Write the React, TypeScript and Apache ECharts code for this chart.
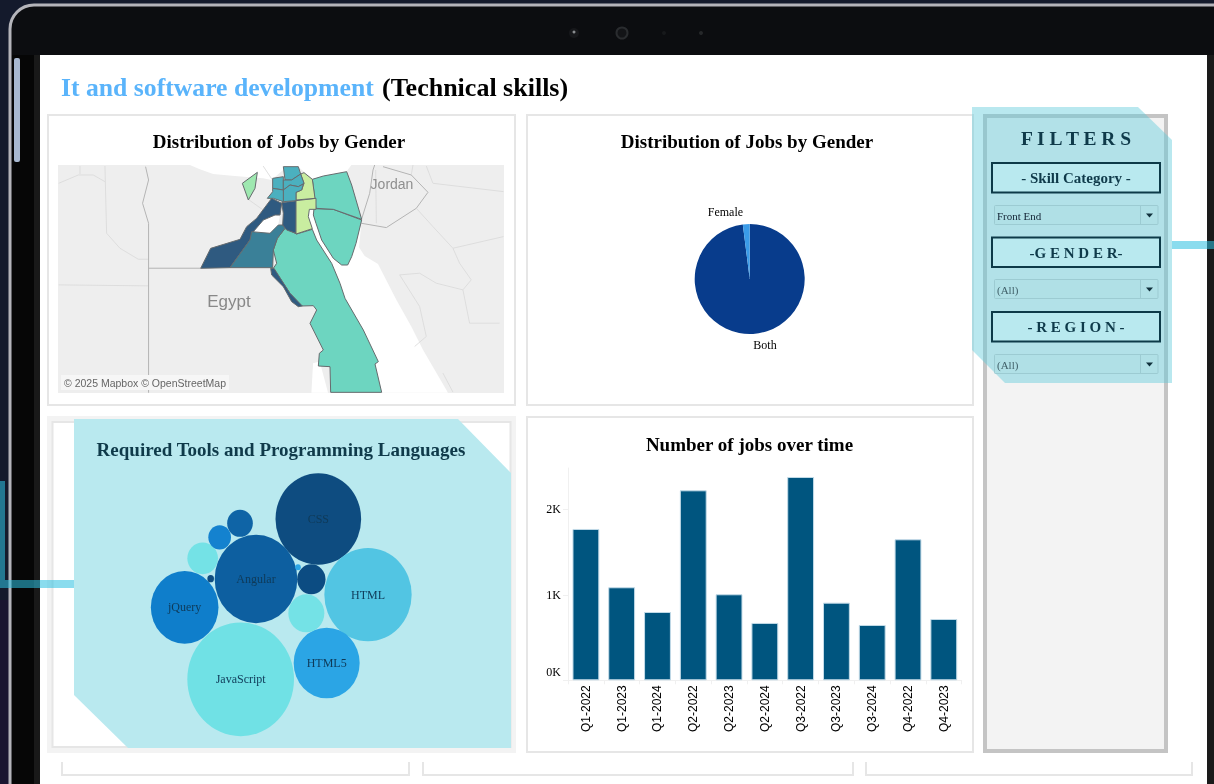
import React, { useEffect, useRef } from "react";
import * as echarts from "echarts";

const serif = "'Liberation Serif', 'Times New Roman', serif";
const sans = "'Liberation Sans', Arial, sans-serif";

// Bars: jobs per quarter
const quarters = ["Q1-2022","Q1-2023","Q1-2024","Q2-2022","Q2-2023","Q2-2024","Q3-2022","Q3-2023","Q3-2024","Q4-2022","Q4-2023"];
const jobCounts = [1770,1088,799,2222,1006,671,2378,908,647,1649,717];

// Pie: gender share
const genderNames = ["Both","Female"];
const genderValues = [98,2];
const genderColors = ["#083c8c","#3a9be8"];

// Bubbles: tools (in plot units of the packed layout)
const toolNames = ["CSS","Angular","HTML","JavaScript","jQuery","HTML5","","","","","","",""];
const toolCx = [565,378,714,332,164,590,529,544,218,269,330,242,504];
const toolCy = [162,342,389,643,427,594,445,343,280,217,175,341,307];
const toolW = [257,248,262,320,203,198,108,85,92,68,77,20,17];
const toolH = [275,265,280,341,218,212,114,90,95,73,81,22,18];
const toolColors = ["#0e4c80","#0d5fa0","#52c5e3","#70e1e5","#0f7ecb","#2ba5e5","#74e2e6","#0c4c82","#74e2e6","#1482cf","#0f64a6","#0e4c80","#2ba5e5"];

// Map: governorates, estimated class values
const regionNames = ["South Sinai","North Sinai","Red Sea","Sohag strip","Giza West","Beni Suef","Helwan","Suez","Sharqia","Damietta","Kafr El Sheikh","Gharbia","Dakahlia","Alexandria","Matrouh North"];
const regionValues = [300,300,300,600,600,500,600,100,100,400,400,400,400,400,200];
const regionShapes: number[][][] = [
  [[792,146],[850,148],[935,180],[918,250],[905,290],[893,315],[875,315],[850,295],[815,240],[798,190],[790,165]],
  [[787,58],[820,48],[890,35],[905,75],[935,178],[850,148],[798,145]],
  [[705,205],[740,222],[787,208],[800,240],[845,310],[870,370],[885,415],[940,510],[985,605],[975,612],[995,697],[842,697],[840,620],[805,618],[808,580],[820,570],[805,540],[780,490],[800,450],[790,437],[755,438],[720,400],[670,325],[680,310],[670,270],[682,235]],
  [[662,325],[672,325],[720,400],[757,438],[745,440],[725,425],[700,380],[665,345]],
  [[452,325],[482,265],[570,238],[590,200],[620,175],[665,115],[695,130],[690,165],[675,165],[640,180],[610,215],[600,240],[540,323]],
  [[540,323],[600,240],[605,215],[660,220],[685,195],[700,195],[705,205],[682,235],[670,270],[668,323]],
  [[695,128],[740,122],[738,220],[710,210],[698,195],[700,160]],
  [[738,122],[798,115],[798,148],[778,148],[775,170],[787,206],[738,222]],
  [[738,120],[738,97],[755,90],[762,70],[752,42],[762,38],[787,58],[795,115]],
  [[700,20],[745,20],[752,42],[725,60],[705,60]],
  [[668,55],[700,50],[700,90],[668,85]],
  [[700,60],[725,60],[752,42],[762,70],[745,80],[720,75],[700,90]],
  [[700,90],[720,75],[745,80],[760,72],[755,90],[738,97],[738,122],[700,125]],
  [[668,85],[700,90],[700,125],[670,115],[652,115],[668,95]],
  [[577,70],[622,37],[615,85],[595,120]],
];
const classBreaks = [100,200,300,400,500,600];
const classColors = ["#c9eda0","#9ee8b0","#6dd5c0","#4bb0bf","#3a8098","#2f5a80"];

// Basemap drawing (same coordinates as the regions)
const seaShapes: number[][][] = [
  [[420,15],[450,28],[490,42],[555,48],[640,55],[665,60],[700,30],[745,20],[790,58],[890,35],[905,15]],
  [[778,150],[790,150],[798,190],[815,240],[850,295],[875,315],[893,315],[905,295],[918,250],[935,190],[928,262],[945,288],[985,312],[1040,420],[1085,500],[1120,570],[1190,690],[1195,699],[995,699],[975,610],[940,510],[885,415],[870,370],[845,310],[800,240],[775,170]],
  [[610,215],[640,180],[675,165],[690,170],[685,195],[665,218],[630,218]],
  [[790,610],[810,605],[835,699],[785,699]],
];
const borderLines: number[][][] = [
  [[287,20],[296,60],[278,130],[296,190],[296,699]],
  [[296,325],[452,325]],
  [[935,180],[960,100],[970,30],[975,15]],
  [[1010,203],[935,190]],
  [[1010,203],[1100,145],[1135,97],[1085,45],[1000,20]],
];
const adminLines: number[][][] = [
  [[26,375],[296,378]],
  [[165,18],[170,220],[210,265],[265,298],[296,298]],
  [[26,70],[85,45],[130,45],[165,65]],
  [[90,18],[90,42]],
  [[595,118],[640,150]],
  [[640,18],[668,60]],
  [[1085,45],[1090,15]],
  [[978,30],[980,190]],
  [[1100,145],[1150,200],[1210,265],[1230,310],[1265,360],[1240,390],[1260,490],[1350,490]],
  [[1362,230],[1210,265]],
  [[1050,345],[1110,340],[1160,370],[1240,390]],
  [[1050,345],[1110,440],[1130,530],[1095,560]],
  [[1130,18],[1150,70],[1362,95]],
  [[1180,640],[1210,697]],
];

const pageTitleA = "It and software development";
const pageTitleB = "(Technical skills)";
const filterLabels = ["- Skill Category -","-G E N D E R-","- R E G I O N -"];
const filterValues = ["Front End","(All)","(All)"];

const rect = (x: number, y: number, w: number, h: number, fill: string, stroke?: string, lineWidth = 0, r = 0) => ({
  type: "rect", silent: true, shape: { x, y, width: w, height: h, r },
  style: { fill, stroke: stroke || "none", lineWidth },
});
const text = (x: number, y: number, t: string, font: string, fill: string, align = "center") => ({
  type: "text", silent: true, x, y,
  style: { text: t, font, fill, textAlign: align, textVerticalAlign: "middle" },
});
const poly = (points: number[][], fill: string) => ({ type: "polygon", silent: true, shape: { points }, style: { fill } });

function buildGraphics() {
  const ink = "#0f3a4a";
  const els: any[] = [];
  // device frame
  els.push(rect(0, 0, 1214, 784, "#141a2c"));
  els.push(rect(0, 600, 10, 184, "#1a1530"));
  els.push(rect(10, 5, 1300, 900, "#0c0d10", "#b4b4ba", 3, 24));
  els.push(rect(12, 55, 28, 729, "#060606"));
  els.push(rect(34, 55, 6, 729, "#191919"));
  els.push(rect(1207, 55, 7, 729, "#1a1a1a"));
  els.push(rect(14, 58, 6, 104, "#a8b8d0", undefined, 0, 2));
  els.push({ type: "circle", silent: true, shape: { cx: 574, cy: 33, r: 5 }, style: { fill: "#17181b" } });
  els.push({ type: "circle", silent: true, shape: { cx: 574, cy: 32, r: 1.5 }, style: { fill: "#8a8d90" } });
  els.push({ type: "circle", silent: true, shape: { cx: 622, cy: 33, r: 5.5 }, style: { fill: "#131417", stroke: "#2a2c2f", lineWidth: 2 } });
  els.push({ type: "circle", silent: true, shape: { cx: 664, cy: 33, r: 2 }, style: { fill: "#17191b" } });
  els.push({ type: "circle", silent: true, shape: { cx: 701, cy: 33, r: 2 }, style: { fill: "#26282a" } });
  // screen
  els.push(rect(40, 55, 1167, 729, "#ffffff"));
  // titles
  els.push(text(61, 87, pageTitleA, `bold 25.7px ${serif}`, "#5ab4fb", "left"));
  els.push(text(382, 87, pageTitleB, `bold 26px ${serif}`, "#000000", "left"));
  // cards
  const edge = "#e6e6e6";
  els.push(rect(48, 115, 467, 290, "#fff", edge, 2));
  els.push(rect(527, 115, 446, 290, "#fff", edge, 2));
  els.push(rect(527, 417, 446, 335, "#fff", edge, 2));
  els.push(rect(47, 416, 469, 337, "#f3f3f3"));
  els.push(rect(52.5, 422, 458, 325, "#fff", edge, 2));
  els.push(text(279, 141, "Distribution of Jobs by Gender", `bold 19px ${serif}`, "#000"));
  els.push(text(747, 141, "Distribution of Jobs by Gender", `bold 19px ${serif}`, "#000"));
  els.push(text(749.5, 444, "Number of jobs over time", `bold 19px ${serif}`, "#000"));
  // connectors
  const link = "rgba(46,193,225,0.56)";
  els.push(rect(0, 481, 5, 99, link));
  els.push(rect(0, 580, 74, 8, link));
  els.push(rect(1172, 241, 42, 8, link));
  // lower stubs
  [[62, 409], [423, 853], [866, 1192]].forEach(([a, b]) => {
    els.push({ type: "polyline", silent: true, shape: { points: [[a, 762], [a, 775], [b, 775], [b, 762]] }, style: { fill: "none", stroke: edge, lineWidth: 2 } });
  });
  // bubble card highlight
  els.push(poly([[74, 419], [458, 419], [511, 473], [511, 748], [128, 748], [74, 695]], "#b9e9ef"));
  els.push(text(281, 449, "Required Tools and Programming Languages", `bold 19px ${serif}`, ink));
  // basemap
  els.push(rect(58, 165, 446, 228, "#eeeeee"));
  els.push({
    type: "group", x: 50, y: 160, scaleX: 1 / 3, scaleY: 1 / 3, silent: true,
    children: [
      ...seaShapes.map((s) => poly(s, "#ffffff")),
      ...adminLines.map((p) => ({ type: "polyline", silent: true, shape: { points: p }, style: { fill: "none", stroke: "#dadada", lineWidth: 2.5 } })),
      ...borderLines.map((p) => ({ type: "polyline", silent: true, shape: { points: p }, style: { fill: "none", stroke: "#b4b4b4", lineWidth: 3 } })),
    ],
  });
  els.push(text(229, 301, "Egypt", `17px ${sans}`, "#888888"));
  els.push(text(392, 184, "Jordan", `14px ${sans}`, "#8f8f8f"));
  els.push(rect(61, 375, 168, 15, "#f6f6f6"));
  els.push(text(64, 383, "© 2025 Mapbox © OpenStreetMap", `10.5px ${sans}`, "#666666", "left"));
  // filter panel
  els.push(rect(985, 116, 181, 635, "#f3f3f3", "#c4c4c4", 4));
  els.push(poly([[972, 107], [1138, 107], [1172, 140], [1172, 383], [1005, 383], [972, 350]], "rgba(100,205,220,0.45)"));
  els.push(text(1076, 138, "F I L T E R S", `bold 19.5px ${serif}`, ink));
  const boxTops = [163, 237.5, 312];
  const dropTops = [205.5, 279.5, 354.5];
  filterLabels.forEach((label, i) => {
    els.push(rect(992, boxTops[i], 168, 29.5, "#b9e9ef", "#0d3a48", 2));
    els.push(text(1076, boxTops[i] + 15, label, `bold 15px ${serif}`, ink));
    const t = dropTops[i];
    els.push(rect(994.5, t, 163.5, 19, "#b0e0e6", "#9ccbd2", 1, 1));
    els.push({ type: "line", silent: true, shape: { x1: 1140.5, y1: t, x2: 1140.5, y2: t + 19 }, style: { stroke: "#9ccbd2", lineWidth: 1 } });
    els.push(poly([[1146, t + 8], [1153, t + 8], [1149.5, t + 12]], "#10303c"));
    els.push(text(997, t + 10, filterValues[i], `11px ${serif}`, i === 0 ? "#123" : "#3f5f68", "left"));
  });
  return els;
}

const mapGeo = {
  type: "FeatureCollection",
  features: regionNames.map((name, i) => {
    const ring = regionShapes[i].map(([x, y]) => [x, -y]);
    ring.push(ring[0]);
    return { type: "Feature", properties: { name }, geometry: { type: "Polygon", coordinates: [ring] } };
  }),
};

export default function App() {
  const ref = useRef<HTMLDivElement>(null);
  useEffect(() => {
    document.body.style.margin = "0";
    document.body.style.overflow = "hidden";
    echarts.registerMap("egypt", mapGeo as any);
    const chart = echarts.init(ref.current!, undefined, { renderer: "svg" });
    chart.setOption({
      animation: false,
      backgroundColor: "transparent",
      textStyle: { fontFamily: serif },
      graphic: { elements: buildGraphics() },
      grid: [
        { left: 568, top: 468, width: 393.7, height: 212.3, containLabel: false },
        { left: 130, top: 465, width: 300, height: 280 },
      ],
      xAxis: [
        {
          gridIndex: 0, type: "category", data: quarters,
          axisLine: { lineStyle: { color: "#f0f0f0" } },
          axisTick: { show: true, length: 4, lineStyle: { color: "#f0f0f0" } },
          axisLabel: { rotate: 90, fontSize: 12, color: "#000", margin: 5, fontFamily: sans, interval: 0 },
        },
        { gridIndex: 1, type: "value", min: 0, max: 900, show: false },
      ],
      yAxis: [
        {
          gridIndex: 0, type: "value", min: 0, max: 2483, interval: 1000,
          splitLine: { show: false },
          axisLine: { show: true, lineStyle: { color: "#f0f0f0" } },
          axisTick: { show: true, length: 5, lineStyle: { color: "#f0f0f0" } },
          axisLabel: {
            fontSize: 12, color: "#000", margin: 7, fontFamily: serif, showMaxLabel: false,
            formatter: (v: number) => (v === 0 ? "{low|0K}" : `${v / 1000}K`),
            rich: { low: { fontSize: 12, color: "#000", fontFamily: serif, padding: [0, 0, 16, 0] } },
          },
        },
        { gridIndex: 1, type: "value", min: 0, max: 840, inverse: true, show: false },
      ],
      visualMap: {
        type: "piecewise", show: false, seriesIndex: 3,
        pieces: classBreaks.map((v, i) => ({ min: v, max: v + 99, color: classColors[i] })),
      },
      series: [
        {
          type: "bar", xAxisIndex: 0, yAxisIndex: 0, data: jobCounts, barWidth: "75%", silent: true,
          itemStyle: { color: "#00557f", borderColor: "#c3dbe8", borderWidth: 1 },
        },
        {
          type: "pie", center: [749.7, 279], radius: [0, 55], startAngle: 90, silent: true,
          data: genderNames.map((name, i) => ({ name, value: genderValues[i], itemStyle: { color: genderColors[i] } })),
          label: { show: true, position: "outside", formatter: "{b}", fontSize: 12, color: "#000", fontFamily: serif },
          labelLine: { show: false, length: 3, length2: 3 },
          labelLayout: (p: any) => (p.dataIndex === 0 ? { dx: -8, dy: 8 } : { dx: 5, dy: -9 }),
        },
        {
          type: "scatter", xAxisIndex: 1, yAxisIndex: 1, silent: true,
          symbol: "path://M0 100A100 100 0 1 1 200 100A100 100 0 1 1 0 100Z",
          symbolSize: (v: number[]) => [v[2] / 3, v[3] / 3],
          data: toolNames.map((name, i) => ({
            name, value: [toolCx[i], toolCy[i], toolW[i], toolH[i]], itemStyle: { color: toolColors[i], opacity: 1 },
          })),
          label: { show: true, position: "inside", formatter: (p: any) => p.name, fontSize: 12, color: "#0f3a58", fontFamily: serif },
        },
        {
          type: "map", map: "egypt", silent: true, aspectScale: 1, roam: false,
          left: 58, top: 165, width: 446, height: 228,
          boundingCoords: [[24, -15], [1362, -699]],
          itemStyle: { borderColor: "#666b6e", borderWidth: 1 },
          label: { show: false },
          data: regionNames.map((name, i) => ({ name, value: regionValues[i] })),
        },
      ],
    });
    return () => chart.dispose();
  }, []);
  return <div ref={ref} style={{ position: "fixed", left: 0, top: 0, width: 1214, height: 784 }} />;
}
